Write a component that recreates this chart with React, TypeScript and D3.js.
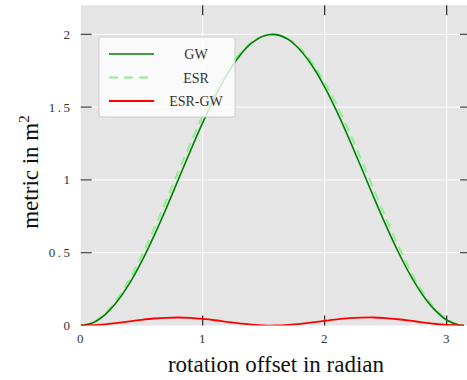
import React from "react";
import * as d3 from "d3";

const xs = [0, 0.1, 0.2, 0.3, 0.4, 0.5, 0.6, 0.7, 0.8, 0.9, 1.0, 1.1, 1.2, 1.3, 1.4, 1.5, 1.6, 1.7, 1.8, 1.9, 2.0, 2.1, 2.2, 2.3, 2.4, 2.5, 2.6, 2.7, 2.8, 2.9, 3.0, 3.1, 3.1416];
const gw = [0, 0.019, 0.075, 0.166, 0.289, 0.440, 0.614, 0.803, 1.002, 1.201, 1.393, 1.571, 1.725, 1.850, 1.939, 1.989, 1.998, 1.965, 1.891, 1.781, 1.638, 1.469, 1.282, 1.085, 0.885, 0.691, 0.510, 0.349, 0.213, 0.109, 0.038, 0.003, 0];
const esr = [0, 0.021, 0.083, 0.183, 0.317, 0.479, 0.662, 0.857, 1.057, 1.253, 1.439, 1.606, 1.750, 1.864, 1.945, 1.991, 1.998, 1.969, 1.902, 1.801, 1.669, 1.511, 1.332, 1.139, 0.940, 0.742, 0.553, 0.382, 0.235, 0.120, 0.042, 0.004, 0];
const diff = [0, 0.002, 0.008, 0.018, 0.028, 0.039, 0.048, 0.053, 0.055, 0.052, 0.045, 0.036, 0.025, 0.015, 0.006, 0.001, 0.000, 0.004, 0.011, 0.021, 0.032, 0.042, 0.050, 0.054, 0.055, 0.051, 0.043, 0.033, 0.022, 0.012, 0.004, 0.000, 0];

const xTicks = [0, 1, 2, 3];
const yTicks = [0, 0.5, 1, 1.5, 2];
const seriesNames = ["GW", "ESR", "ESR-GW"];

const W = 467;
const H = 380;
const FONT = "'Liberation Serif', 'DejaVu Serif', serif";

export default function App() {
  const x = d3.scaleLinear().domain([0, 3.2]).range([80.7, 471.1]);
  const y = d3.scaleLinear().domain([0, 2.2]).range([325.5, 5.2]);
  const [x0, x1] = x.range();
  const [y0, y1] = y.range();

  const mk = (vals: number[]) =>
    d3
      .line<number>()
      .x((_, i) => x(xs[i]))
      .y((v) => y(v))
      .curve(d3.curveCatmullRom.alpha(0.5))(vals) || "";

  const series = [
    { name: seriesNames[0], vals: gw, color: "#008000", width: 1.6, dash: "" },
    { name: seriesNames[1], vals: esr, color: "#90ee90", width: 2, dash: "9,6" },
    { name: seriesNames[2], vals: diff, color: "#ff0000", width: 1.8, dash: "" },
  ];
  const drawOrder = [1, 0, 2];

  const legX = 99;
  const legY = 37;
  const rowY = [54, 77.5, 101];

  return (
    <div style={{ position: "absolute", left: 0, top: 0 }}>
      <svg width={W} height={H} style={{ display: "block", background: "#fff" }}>
        <defs>
          <clipPath id="plotclip">
            <rect x={x0} y={y1} width={x1 - x0} height={y0 - y1} />
          </clipPath>
        </defs>
        <rect x={x0} y={y1} width={x1 - x0} height={y0 - y1} fill="#e5e5e5" />
        {xTicks.filter((t) => t > 0).map((t) => (
          <line key={"gx" + t} x1={x(t)} x2={x(t)} y1={y1} y2={y0} stroke="#fff" strokeWidth={1} />
        ))}
        {yTicks.filter((t) => t > 0).map((t) => (
          <line key={"gy" + t} x1={x0} x2={x1} y1={y(t)} y2={y(t)} stroke="#fff" strokeWidth={1} />
        ))}
        {xTicks.filter((t) => t > 0).map((t) => (
          <g key={"tx" + t}>
            <line x1={x(t)} x2={x(t)} y1={y0} y2={y0 - 10} stroke="#111" strokeWidth={1.1} />
            <line x1={x(t)} x2={x(t)} y1={y1} y2={y1 + 10} stroke="#111" strokeWidth={1.1} />
          </g>
        ))}
        {yTicks.filter((t) => t > 0).map((t) => (
          <g key={"ty" + t}>
            <line x1={x0} x2={x0 + 11} y1={y(t)} y2={y(t)} stroke="#333" strokeWidth={1.1} />
            <line x1={x1} x2={x1 - 11} y1={y(t)} y2={y(t)} stroke="#333" strokeWidth={1.1} />
          </g>
        ))}
        <g clipPath="url(#plotclip)">
          {drawOrder.map((i) => {
            const s = series[i];
            return (
              <path
                key={s.name}
                d={mk(s.vals)}
                fill="none"
                stroke={s.color}
                strokeWidth={s.width}
                strokeDasharray={s.dash || undefined}
              />
            );
          })}
        </g>
        {xTicks.map((t) => (
          <text key={"lx" + t} x={x(t)} y={343} textAnchor="middle" fontFamily={FONT} fontSize={13} fill="#333" letterSpacing={1}>
            {String(t)}
          </text>
        ))}
        {yTicks.map((t) => (
          <text key={"ly" + t} x={72.5} y={y(t) + 4.5} textAnchor="end" fontFamily={FONT} fontSize={13} fill="#333" letterSpacing={2.5}>
            {String(t)}
          </text>
        ))}
        <text x={276} y={372} textAnchor="middle" fontFamily={FONT} fontSize={23} fill="#111">
          rotation offset in radian
        </text>
        <text transform="translate(38,172) rotate(-90)" textAnchor="middle" fontFamily={FONT} fontSize={23} fill="#111">
          metric in m<tspan dy={-9} fontSize={15}>2</tspan>
        </text>
        <rect x={legX} y={legY} width={136} height={80} rx={2} fill="#ffffff" fillOpacity={0.8} stroke="#cccccc" strokeWidth={1} />
        {series.map((s, i) => (
          <g key={"leg" + s.name}>
            <line x1={109} x2={154} y1={rowY[i]} y2={rowY[i]} stroke={s.color} strokeWidth={s.width} strokeDasharray={s.dash || undefined} />
            <text x={196} y={rowY[i] + 5} textAnchor="middle" fontFamily={FONT} fontSize={14} fill="#333">
              {s.name}
            </text>
          </g>
        ))}
      </svg>
    </div>
  );
}
